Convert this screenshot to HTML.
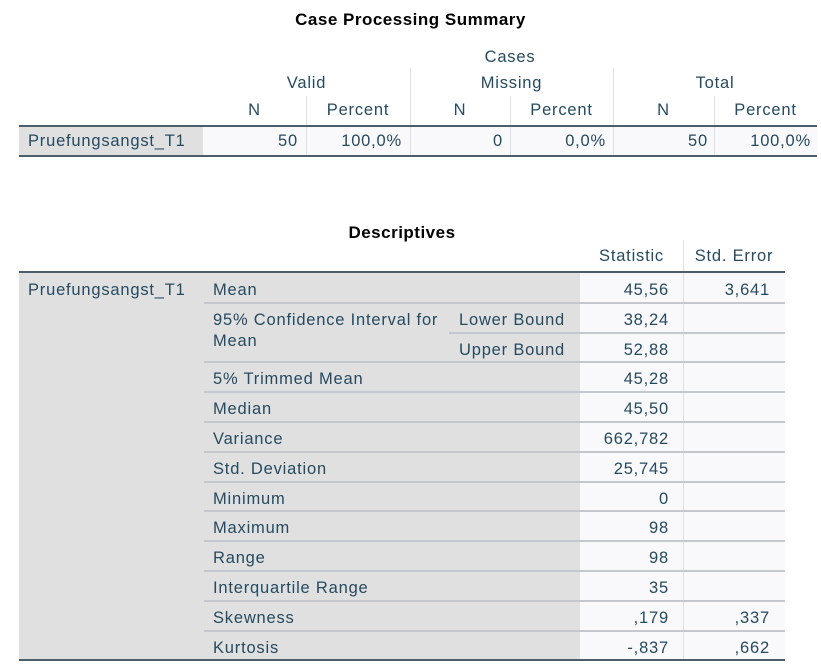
<!DOCTYPE html>
<html><head><meta charset="utf-8"><style>
body{margin:0;width:821px;height:668px;background:#fff;position:relative;overflow:hidden;font-family:"Liberation Sans",sans-serif;}
div{position:absolute;box-sizing:border-box;}
.t{font-size:16.5px;letter-spacing:0.8px;color:#264a60;white-space:nowrap;line-height:18px;}
.tl{}.tr{text-align:right}.tc{text-align:center}
.title{font-weight:bold;font-size:17px;letter-spacing:0.5px;color:#000;text-align:center;line-height:20px}
.g{background:#e0e0e0}.w{background:#f9f9fb}
.hl{height:2px;background:#c4c8cc}
.vl{width:1px;background:#dde0e3}
.thick{height:2px;background:#4d5e6b}
</style></head><body>
<div class="title" style="left:0;width:821px;top:10px">Case Processing Summary</div>
<div style="left:0;top:0;width:821px;height:170px">
<div class="t tc" style="left:203px;width:614px;top:48px">Cases</div>
<div class="vl" style="left:410px;top:68px;height:88px"></div>
<div class="vl" style="left:613px;top:68px;height:88px"></div>
<div class="vl" style="left:306px;top:96px;height:60px"></div>
<div class="vl" style="left:510px;top:96px;height:60px"></div>
<div class="vl" style="left:714px;top:96px;height:60px"></div>
<div class="t tc" style="left:203px;width:207px;top:74px">Valid</div>
<div class="t tc" style="left:410px;width:203px;top:74px">Missing</div>
<div class="t tc" style="left:613px;width:204px;top:74px">Total</div>
<div class="t tc" style="left:203px;width:103px;top:101px">N</div>
<div class="t tc" style="left:306px;width:104px;top:101px">Percent</div>
<div class="t tc" style="left:410px;width:100px;top:101px">N</div>
<div class="t tc" style="left:510px;width:103px;top:101px">Percent</div>
<div class="t tc" style="left:613px;width:101px;top:101px">N</div>
<div class="t tc" style="left:714px;width:103px;top:101px">Percent</div>
<div class="g" style="left:19px;top:127px;width:184px;height:29px"></div>
<div class="w" style="left:203px;top:127px;width:614px;height:29px"></div>
<div class="vl" style="left:306px;top:127px;height:29px"></div>
<div class="vl" style="left:410px;top:127px;height:29px"></div>
<div class="vl" style="left:510px;top:127px;height:29px"></div>
<div class="vl" style="left:613px;top:127px;height:29px"></div>
<div class="vl" style="left:714px;top:127px;height:29px"></div>
<div class="thick" style="left:19px;top:125px;width:798px"></div>
<div class="thick" style="left:19px;top:155px;width:798px"></div>
<div class="t tl" style="left:28px;top:132px">Pruefungsangst_T1</div>
<div class="t tr" style="left:203px;width:95px;top:132px">50</div>
<div class="t tr" style="left:306px;width:96px;top:132px">100,0%</div>
<div class="t tr" style="left:410px;width:93px;top:132px">0</div>
<div class="t tr" style="left:510px;width:96px;top:132px">0,0%</div>
<div class="t tr" style="left:613px;width:95px;top:132px">50</div>
<div class="t tr" style="left:714px;width:97px;top:132px">100,0%</div>
</div>

<div class="title" style="left:0;width:804px;top:223px">Descriptives</div>
<div style="left:0;top:240px;width:821px;height:428px">
<div class="vl" style="left:683px;top:0px;height:420px"></div>
<div class="t tc" style="left:580px;width:103px;top:7px">Statistic</div>
<div class="t tc" style="left:683px;width:102px;top:7px">Std. Error</div>
</div>
<div class="thick" style="left:19px;top:271px;width:766px"></div>
<script>
const labels=["Mean","95% Confidence Interval for","","5% Trimmed Mean","Median","Variance","Std. Deviation","Minimum","Maximum","Range","Interquartile Range","Skewness","Kurtosis"];
const sublabels=["","Lower Bound","Upper Bound","","","","","","","","","",""];
const statistic=["45,56","38,24","52,88","45,28","45,50","662,782","25,745","0","98","98","35",",179","-,837"];
const stderr=["3,641","","","","","","","","","","",",337",",662"];
const top0=273,pitch=29.8;
function mk(cls,style,text){const d=document.createElement('div');d.className=cls;d.setAttribute('style',style);if(text!==undefined)d.textContent=text;document.body.appendChild(d);return d;}
const n=labels.length;const bottom=top0+n*pitch;
let e=mk('g','left:19px;top:'+top0+'px;width:561px;height:'+(bottom-top0)+'px');


e=mk('w','left:580px;top:'+top0+'px;width:205px;height:'+(bottom-top0)+'px');


mk('vl','left:683px;top:'+top0+'px;height:'+(bottom-top0)+'px');
e=mk('t tl','left:28px;top:'+(top0+8)+'px','Pruefungsangst_T1');


for(let i=0;i<n;i++){
 const y=top0+i*pitch;
 if(labels[i]){e=mk('t tl','left:213px;top:'+(y+8)+'px',labels[i]);
  
  }
 if(i===2){e=mk('t tl','left:213px;top:'+(y-1)+'px','Mean');
  
  }
 if(sublabels[i]){e=mk('t tl','left:459px;top:'+(y+8)+'px',sublabels[i]);
  
  }
 e=mk('t tr','left:580px;width:89px;top:'+(y+8)+'px',statistic[i]);
 
 
 e=mk('t tr','left:683px;width:87px;top:'+(y+8)+'px',stderr[i]);
 
 
 if(i<n-1){const lx=(i===1)?449:204;mk('hl','left:'+lx+'px;top:'+Math.round(y+pitch-1)+'px;width:'+(785-lx)+'px');}
}
mk('thick','left:19px;top:'+Math.round(bottom-1)+'px;width:766px');
</script>
</body></html>
